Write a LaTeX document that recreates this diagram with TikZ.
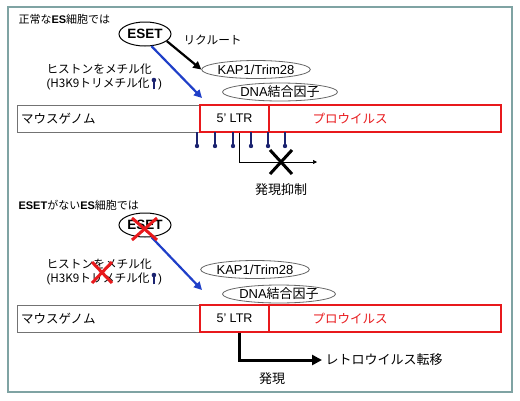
\documentclass[tikz,border=0pt]{standalone}
\usepackage{fontspec}
\setmainfont{Liberation Sans}
\newfontfamily\jp{Noto Sans CJK JP}
\usetikzlibrary{arrows.meta,shapes.geometric}
\definecolor{framec}{HTML}{7FA3A3}
\definecolor{navy}{HTML}{1B2370}
\definecolor{blu}{HTML}{1F3FC8}
\definecolor{rd}{HTML}{E8191C}
\newcommand{\pinsym}{\tikz[baseline=0pt,x=1pt,y=1pt]{\draw[navy,line width=1.6pt](0,-1.5)--(0,7);\fill[navy](0,7.8) circle (2.3pt);}}
\tikzset{
  fs/.style={font=\fontsize{#1}{#1}\selectfont},
  esetell/.style={draw,ellipse,line width=1pt,inner sep=0pt,minimum width=52pt,minimum height=24pt,font=\fontsize{13.5}{13.5}\selectfont\bfseries},
  grayell/.style={draw=black!60,ellipse,line width=0.8pt,inner sep=0pt,minimum height=18pt,font=\fontsize{13}{13}\selectfont},
  gbox/.style={draw=black!55,line width=0.8pt,minimum height=27pt,inner sep=4pt,align=left,font=\fontsize{12.5}{13}\selectfont},
  rbox/.style={draw=rd,line width=2pt,minimum height=27pt,inner sep=0pt,font=\fontsize{12.5}{13}\selectfont},
  bluearr/.style={blu,line width=2.2pt,-{Triangle[length=8pt,width=8pt]}},
  blkarr/.style={black,line width=2.2pt,-{Triangle[length=8pt,width=8pt]}},
  redx/.style={rd,line width=3pt},
  lolli/.style={navy,line width=1.3pt}
}
\begin{document}
\begin{tikzpicture}[x=1pt,y=-1pt]
\useasboundingbox (0,0) rectangle (520,400);
\draw[framec,line width=1.3pt] (8,7) rectangle (512,392);

% ---------- top panel ----------
\node[anchor=west,fs=11] (title1) at (15,19) {{\jp 正常な}\textbf{ES}{\jp 細胞では}};
\node[esetell] (eset1) at (145,34) {ESET};
\node[anchor=west,fs=11.7] (recruit) at (180,40) {\jp リクルート};
\node[anchor=west,fs=11.7] (hist1a) at (43,69) {\jp ヒストンをメチル化};
\node[anchor=west,fs=11.7] (hist1b) at (43,84) {({\jp H3K9トリメチル化}\,\pinsym\,)};
\node[grayell,minimum width=102pt] (kap1) at (256,69.5) {KAP1/Trim28};
\node[grayell,minimum width=115pt] (dna1) at (280,92) {DNA{\jp 結合因子}};
\node[gbox,minimum width=183pt,text width=175pt] (gen1) at (108.5,118.5) {\jp マウスゲノム};
\node[rbox,minimum width=232pt] (prov1) at (385,118.5) {};
\node[rbox,minimum width=69pt] (ltr1) at (234.5,118.5) {5’ LTR};
\node[rd,fs=12.5] (provt1) at (350,119) {\jp プロウイルス};
\coordinate (tgt1) at (202,98);
\draw[blkarr] (eset1.-18) -- (kap1.west);
\draw[bluearr] (eset1.-62) -- (tgt1);
\foreach \xx in {197,215,233,251,268,285}{
  \draw[lolli] (\xx,132) -- (\xx,146);
  \fill[navy] (\xx,146) circle (2.2pt);
}
\coordinate (end1) at (317,162);
\draw[line width=0.7pt,-{Triangle[length=4pt,width=4pt]}] ([xshift=4.5pt]ltr1.south) |- (end1);
\draw[line width=3pt] (270,150) -- (292,174) (270,174) -- (292,150);
\node[fs=13] (rep) at (281,190) {\jp 発現抑制};

% ---------- bottom panel ----------
\node[anchor=west,fs=11] (title2) at (15,205) {\textbf{ESET}{\jp がない}\textbf{ES}{\jp 細胞では}};
\node[esetell] (eset2) at (145,225) {ESET};
\node[anchor=west,fs=11.7] (hist2a) at (43,264) {\jp ヒストンをメチル化};
\node[anchor=west,fs=11.7] (hist2b) at (43,279) {({\jp H3K9トリメチル化}\,\pinsym\,)};
\node[grayell,minimum width=100pt] (kap2) at (255,269.5) {KAP1/Trim28};
\node[grayell,minimum width=113pt] (dna2) at (279,294) {DNA{\jp 結合因子}};
\node[gbox,minimum width=183pt,text width=175pt] (gen2) at (108.5,318.5) {\jp マウスゲノム};
\node[rbox,minimum width=232pt] (prov2) at (385,318) {};
\node[rbox,minimum width=69pt] (ltr2) at (234.5,318) {5’ LTR};
\node[rd,fs=12.5] (provt2) at (350,318.5) {\jp プロウイルス};
\coordinate (tgt2) at (202,290);
\draw[bluearr] (eset2.-62) -- (tgt2);
\draw[redx] (132,218) -- (157,240) (132,240) -- (157,218);
\draw[redx] (92,262) -- (112,283) (92,283) -- (112,262);
\node[anchor=west,fs=13] (retro) at (322,360) {\jp レトロウイルス転移};
\draw[line width=3pt,line join=miter,-{Triangle[length=10pt,width=10pt]}] ([xshift=4.5pt]ltr2.south) |- (retro.west);
\node[fs=13] (expr) at (272,379) {\jp 発現};
\end{tikzpicture}
\end{document}
